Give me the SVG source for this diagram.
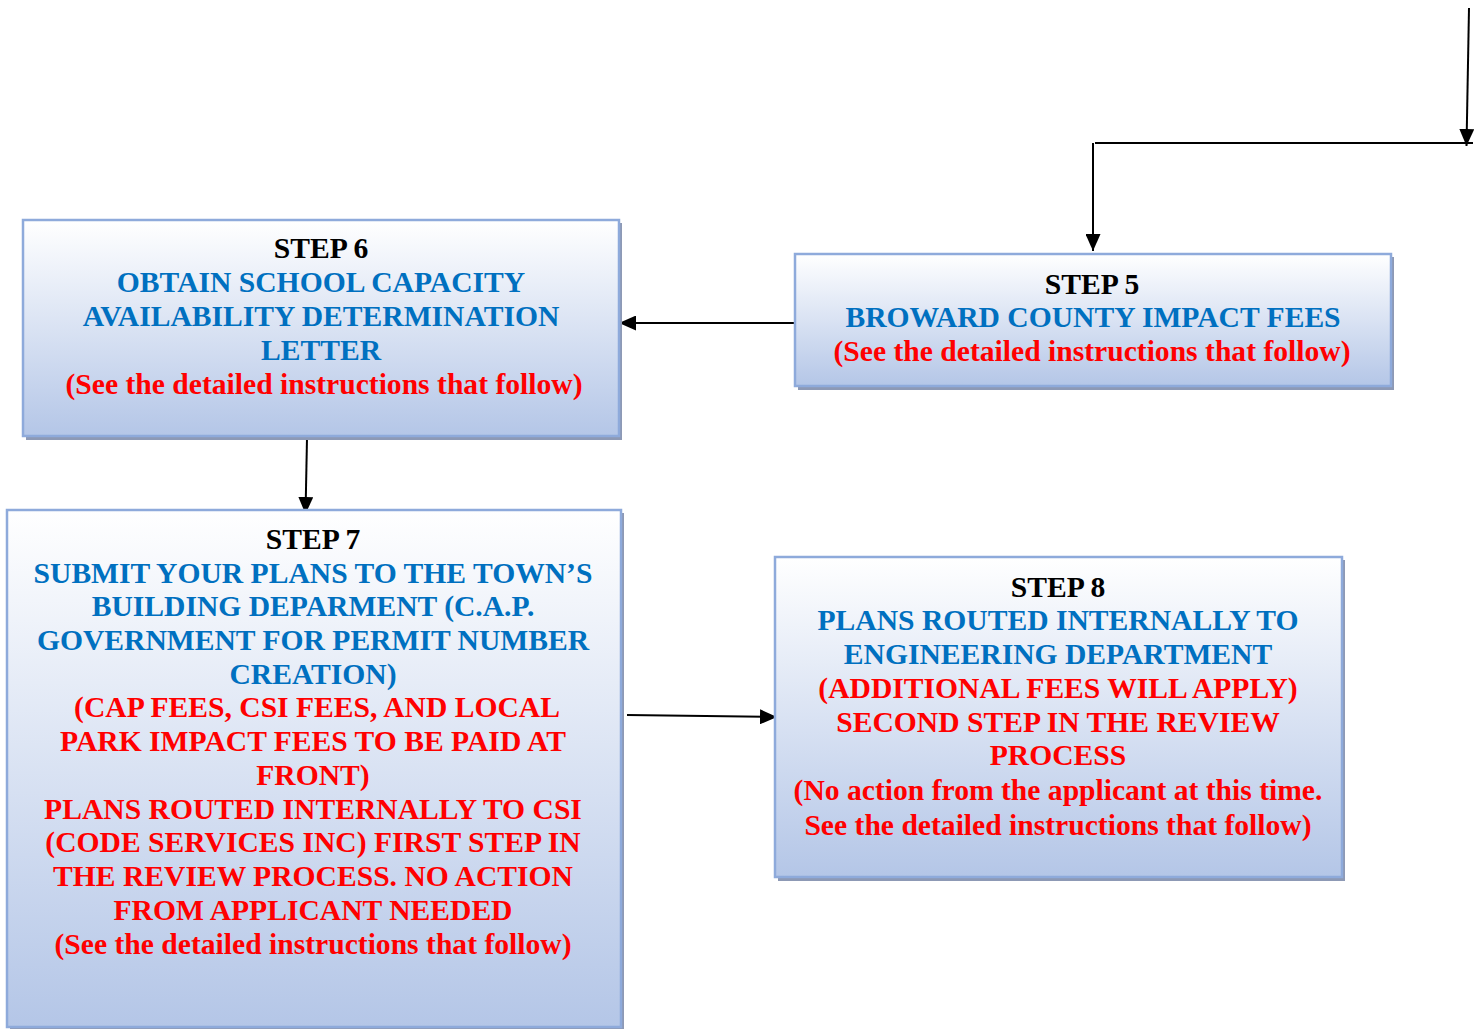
<svg xmlns="http://www.w3.org/2000/svg" width="1484" height="1029" viewBox="0 0 1484 1029">
<defs>
<linearGradient id="g" x1="0" y1="0" x2="0" y2="1">
<stop offset="0" stop-color="#ffffff"/>
<stop offset="1" stop-color="#b4c6e7"/>
</linearGradient>
<marker id="ah" viewBox="0 0 17 15" refX="17" refY="7.5" markerWidth="17" markerHeight="15" markerUnits="userSpaceOnUse" orient="auto">
<path d="M0,0 L17,7.5 L0,15 Z" fill="#000"/>
</marker>
</defs>
<style>
.shadow{fill:#8d99b5;}
.box{fill:url(#g);stroke:#8eaadb;stroke-width:2.5;}
text{font-family:"Liberation Serif","Times New Roman",serif;font-weight:bold;font-size:29.6px;text-anchor:middle;}
.k{fill:#000;}
.b{fill:#0070c0;}
.r{fill:#ff0000;}
.c{stroke:#000;stroke-width:2;fill:none;}
</style>
<rect width="1484" height="1029" fill="#fff"/>
<g id="connectors">
<line class="c" x1="1469" y1="8" x2="1466.5" y2="146" marker-end="url(#ah)"/>
<line class="c" x1="1095" y1="143" x2="1473" y2="143"/>
<line class="c" x1="1093" y1="143" x2="1093" y2="251" marker-end="url(#ah)"/>
<line class="c" x1="796" y1="323" x2="619" y2="323" marker-end="url(#ah)"/>
<line class="c" x1="307" y1="438" x2="305.5" y2="514" marker-end="url(#ah)"/>
<line class="c" x1="627" y1="715" x2="777" y2="717" marker-end="url(#ah)"/>
</g>
<g id="step6">
<rect class="shadow" x="26" y="223" width="596" height="217"/>
<rect class="box" x="23" y="220" width="596" height="216"/>
<text x="321" y="258" class="k">STEP 6</text>
<text x="321" y="292" class="b">OBTAIN SCHOOL CAPACITY</text>
<text x="321" y="326" class="b">AVAILABILITY DETERMINATION</text>
<text x="321" y="360" class="b">LETTER</text>
<text x="324" y="394" class="r">(See the detailed instructions that follow)</text>
</g>
<g id="step5">
<rect class="shadow" x="798" y="257" width="596" height="133"/>
<rect class="box" x="795" y="254" width="596" height="132"/>
<text x="1092" y="294" class="k">STEP 5</text>
<text x="1093" y="327" class="b">BROWARD COUNTY IMPACT FEES</text>
<text x="1092" y="361" class="r">(See the detailed instructions that follow)</text>
</g>
<g id="step7">
<rect class="shadow" x="10" y="513" width="614" height="520"/>
<rect class="box" x="7" y="510" width="614" height="517"/>
<text x="313" y="549" class="k">STEP 7</text>
<text x="313" y="583" class="b">SUBMIT YOUR PLANS TO THE TOWN’S</text>
<text x="313" y="616" class="b">BUILDING DEPARMENT (C.A.P.</text>
<text x="313" y="650" class="b">GOVERNMENT FOR PERMIT NUMBER</text>
<text x="313" y="684" class="b">CREATION)</text>
<text x="317" y="717" class="r">(CAP FEES, CSI FEES, AND LOCAL</text>
<text x="313" y="751" class="r">PARK IMPACT FEES TO BE PAID AT</text>
<text x="313" y="785" class="r">FRONT)</text>
<text x="313" y="819" class="r">PLANS ROUTED INTERNALLY TO CSI</text>
<text x="313" y="852" class="r">(CODE SERVICES INC) FIRST STEP IN</text>
<text x="313" y="886" class="r">THE REVIEW PROCESS. NO ACTION</text>
<text x="313" y="920" class="r">FROM APPLICANT NEEDED</text>
<text x="313" y="954" class="r">(See the detailed instructions that follow)</text>
</g>
<g id="step8">
<rect class="shadow" x="778" y="560" width="567" height="321"/>
<rect class="box" x="775" y="557" width="567" height="320"/>
<text x="1058" y="597" class="k">STEP 8</text>
<text x="1058" y="630" class="b">PLANS ROUTED INTERNALLY TO</text>
<text x="1058" y="664" class="b">ENGINEERING DEPARTMENT</text>
<text x="1058" y="698" class="r">(ADDITIONAL FEES WILL APPLY)</text>
<text x="1058" y="732" class="r">SECOND STEP IN THE REVIEW</text>
<text x="1058" y="765" class="r">PROCESS</text>
<text x="1058" y="800" class="r">(No action from the applicant at this time.</text>
<text x="1058" y="835" class="r">See the detailed instructions that follow)</text>
</g>
</svg>
